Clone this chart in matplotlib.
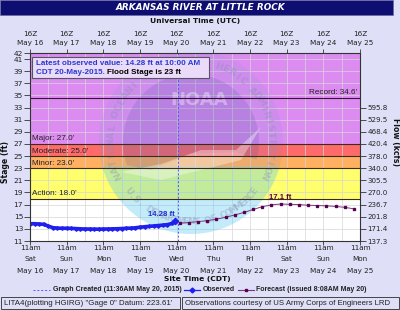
import numpy as np
import matplotlib
matplotlib.use("Agg")
import matplotlib.pyplot as plt
import matplotlib.transforms as mtransforms
from matplotlib.patches import Rectangle, Polygon
from matplotlib.lines import Line2D

# ---------------- data ----------------
days = ["Sat", "Sun", "Mon", "Tue", "Wed", "Thu", "Fri", "Sat", "Sun", "Mon"]
dates = ["May 16", "May 17", "May 18", "May 19", "May 20", "May 21", "May 22", "May 23", "May 24", "May 25"]
utc_dates = dates
stage_ticks = [11, 13, 15, 17, 19, 21, 23, 25, 27, 29, 31, 33, 35, 37, 39, 41, 42]
flow_ticks = [11, 13, 15, 17, 19, 21, 23, 25, 27, 29, 31, 33]
flow_labels = ["137.3", "171.4", "201.8", "236.7", "270.0", "305.5", "340.0", "378.0",
               "420.4", "468.4", "529.5", "595.8"]

# observed (hours after May 16 11am CDT)
obs_hours = [0, 3, 6, 9, 12, 15, 18, 21, 24, 27, 30, 33, 36, 39, 42, 45, 48, 51, 54, 57,
             60, 63, 66, 69, 72, 75, 78, 81, 84, 87, 90, 93, 95]
obs_stage = [13.85, 13.85, 13.8, 13.75, 13.45, 13.2, 13.12, 13.1, 13.1, 13.08, 13.05, 13.0,
             12.98, 12.97, 12.95, 12.95, 12.97, 12.98, 13.0, 13.02, 13.05, 13.1, 13.12, 13.18,
             13.28, 13.35, 13.42, 13.48, 13.55, 13.62, 13.7, 13.9, 14.28]

# forecast (hours after May 16 11am CDT)
fc_hours = [98, 104, 110, 116, 122, 128, 134, 140, 146, 152, 158, 164, 170, 176, 182, 188,
            194, 200, 206, 212]
fc_stage = [13.95, 14.05, 14.2, 14.35, 14.6, 14.9, 15.3, 15.7, 16.2, 16.65, 16.95, 17.1,
            17.05, 17.0, 16.9, 16.85, 16.8, 16.7, 16.55, 16.3]

created_hour = 96.6  # 11:36 AM May 20
flood_cats = [("Action", 18.0, 23.0, "#ffff6e"), ("Minor", 23.0, 25.0, "#ffb060"),
              ("Moderate", 25.0, 27.0, "#ff6a6a"), ("Major", 27.0, 42.0, "#dc8cf0")]
record = 34.6

# ---------------- figure ----------------
W, H = 400, 310
fig = plt.figure(figsize=(4, 3.1), dpi=100)
BG = "#dfdff7"
fig.patch.set_facecolor(BG)
SANS = "Liberation Sans"

def F(x, y):
    return (x / W, 1 - y / H)

pix = mtransforms.Affine2D().scale(1 / W, -1 / H).translate(0, 1) + fig.transFigure

L, R, T, B = 30, 360, 53, 241
ax = fig.add_axes([L / W, 1 - B / H, (R - L) / W, (B - T) / H])
ax.set_facecolor("white")
ax.set_xlim(0, 9)
ax.set_ylim(11, 42)

# bands
for name, lo, hi, col in flood_cats:
    ax.axhspan(lo, hi, color=col, zorder=0.3, lw=0)
for name, lo, hi, col in flood_cats:
    ax.axhline(lo, color="#3a2a20", lw=0.8, zorder=2)
ax.axhline(record, color="#3a1040", lw=0.8, zorder=2)

# grid
for yv in stage_ticks[:-1]:
    ax.axhline(yv, color="#d6d6d6", lw=0.5, zorder=0.6)
for xv in np.arange(0.5, 9, 0.5):
    ax.axvline(xv, color="#d6d6d6", lw=0.5, zorder=0.6)

# ---------------- watermark ----------------
cx, cy = 191, 142
zw = 1.0
th = np.linspace(np.radians(195), np.radians(345), 80)
sea = [(cx + 92 * np.cos(t), cy - 92 * np.sin(t)) for t in th]
ax.add_patch(Polygon(sea, closed=True, transform=pix, facecolor="#5ec8f0",
                     alpha=0.36, lw=0, zorder=zw))
th2 = np.linspace(np.radians(195), np.radians(-15), 80)
up = [(cx + 92 * np.cos(t), cy - 92 * np.sin(t)) for t in th2]
ax.add_patch(Polygon(up, closed=True, transform=pix, facecolor="#7090d0",
                     alpha=0.12, lw=0, zorder=zw))
th3 = np.linspace(np.radians(200), np.radians(-15), 60)
sky_pts = [(cx + 68 * np.cos(t), cy - 68 * np.sin(t)) for t in th3]
sky_pts += [(cx + 45, cy + 10), (cx, cy + 12), (cx - 40, cy + 28)]
ax.add_patch(Polygon(sky_pts, closed=True, transform=pix, facecolor="#2a3a9a",
                     alpha=0.13, lw=0, zorder=zw))
gull = [(cx - 70, cy + 30), (cx - 30, cy + 22), (cx + 10, cy + 8), (cx + 45, cy + 8),
        (cx + 70, cy - 15), (cx + 50, cy + 18), (cx + 10, cy + 28), (cx - 30, cy + 38)]
ax.add_patch(Polygon(gull, closed=True, transform=pix, facecolor="white",
                     alpha=0.35, lw=0, zorder=zw))
ax.text(cx + 8, cy - 42, "NOAA", transform=pix, fontsize=13, fontweight="bold",
        color="white", alpha=0.35, ha="center", va="center", zorder=zw)

BOX = (32, 56.5, 177, 21)  # info box in pixels (x, y, w, h)

def arc_text(s, r, a0, a1, top):
    n = len(s)
    angs = np.linspace(a0, a1, n)
    for ch, a in zip(s, angs):
        ar = np.radians(a)
        x = cx + r * np.cos(ar)
        y = cy - r * np.sin(ar)
        if BOX[0] - 4 < x < BOX[0] + BOX[2] + 4 and BOX[1] - 4 < y < BOX[1] + BOX[3] + 4:
            continue  # hidden below the info box anyway
        rot = a - 90 if top else a + 90
        ax.text(x, y, ch, transform=pix, fontsize=6.5, fontweight="bold", color="#8890b8",
                alpha=0.4, ha="center", va="center", rotation=rot,
                rotation_mode="anchor", zorder=zw)

arc_text("NATIONAL OCEANIC AND ATMOSPHERIC ADMINISTRATION", 80, 205, -25, True)
arc_text("U.S. DEPARTMENT OF COMMERCE", 80, 218, 322, False)

# ---------------- data lines ----------------
ax.axvline(created_hour / 24, color="#5555ff", lw=0.7, ls=(0, (2, 2)), zorder=2.5)
obs_x = np.array(obs_hours) / 24
fc_x = np.array(fc_hours) / 24
ax.plot(obs_x, obs_stage, color="#2020ee", lw=2.6, zorder=3, solid_capstyle="round")
ax.plot(obs_x, obs_stage, ls="none", marker="D", ms=1.8, color="#2020ee", zorder=3)
ax.plot(obs_x[-1], obs_stage[-1], marker="D", ms=3.2, color="#2020ee", zorder=3.1)
ax.plot(fc_x, fc_stage, color="#7a3a80", lw=0.7, zorder=3)
ax.plot(fc_x, fc_stage, ls="none", marker="s", ms=1.8, color="#5a0050", zorder=3.1)

ax.text(obs_x[-1] - 0.02, obs_stage[-1] + 0.45, "14.28 ft", fontsize=5.6, fontweight="bold",
        color="#2030d0", ha="right", va="bottom", zorder=4, family=SANS)
imax = int(np.argmax(fc_stage))
ax.text(fc_x[imax], fc_stage[imax] + 0.55, "17.1 ft", fontsize=5.6, fontweight="bold",
        color="#5a0050", ha="center", va="bottom", zorder=4, family=SANS)

# band labels
for name, lo, hi, col in flood_cats:
    ax.text(0.06, lo + 0.25, f"{name}: {lo:.1f}'", fontsize=5.9, color="#222222",
            ha="left", va="bottom", zorder=4, family=SANS)
ax.text(8.93, record + 0.25, f"Record: {record:.1f}'", fontsize=5.9, color="#222222",
        ha="right", va="bottom", zorder=4, family=SANS)

# info box
ax.add_patch(Rectangle((BOX[0], BOX[1]), BOX[2], BOX[3], transform=pix, facecolor="#eadcf8",
                       edgecolor="#555566", lw=0.8, zorder=5, clip_on=False))
fig.text(*F(36, 63.5), "Latest observed value: 14.28 ft at 10:00 AM", fontsize=5.8,
         fontweight="bold", color="#2a3ad0", va="center", ha="left", family=SANS, zorder=6)
t2 = fig.text(*F(36, 72), "CDT 20-May-2015. ", fontsize=5.8, fontweight="bold",
              color="#2a3ad0", va="center", ha="left", family=SANS, zorder=6)
ax.annotate("Flood Stage is 23 ft", xy=(1, 0.5), xycoords=t2, fontsize=5.8,
            fontweight="bold", color="black", va="center", ha="left",
            family=SANS, zorder=6, annotation_clip=False)

# ---------------- axes / ticks ----------------
for sp in ax.spines.values():
    sp.set_color("#333333")
    sp.set_linewidth(0.8)
    sp.set_zorder(4)
ax.set_xticks(range(10))
ax.tick_params(axis="x", which="both", top=True, bottom=True, direction="out",
               length=3, width=0.6, color="#333333", labelbottom=False, labeltop=False)
ax.set_yticks(stage_ticks)
ax.set_yticklabels([str(v) for v in stage_ticks])
ax.tick_params(axis="y", direction="out", length=4, width=0.6, color="#333333",
               labelsize=5.3, pad=1, labelcolor="#222222")
ax2 = ax.twinx()
ax2.set_ylim(11, 42)
ax2.set_yticks(flow_ticks)
ax2.set_yticklabels(flow_labels)
ax2.tick_params(axis="y", direction="out", length=4, width=0.6, color="#333333",
                labelsize=5.1, pad=1.5, labelcolor="#222222")
for sp in ax2.spines.values():
    sp.set_visible(False)

# bottom/top labels
for i in range(10):
    x = L + i * (R - L) / 9
    fig.text(*F(x, 248), "11am", fontsize=5.2, ha="center", va="center", color="#222222")
    fig.text(*F(x, 259), days[i], fontsize=5.2, ha="center", va="center", color="#222222")
    fig.text(*F(x, 270.5), dates[i], fontsize=5.2, ha="center", va="center", color="#222222")
    fig.text(*F(x, 34), "16Z", fontsize=5.2, ha="center", va="center", color="#222222")
    fig.text(*F(x, 42.5), utc_dates[i], fontsize=5.2, ha="center", va="center", color="#222222")

fig.text(*F(197, 279.5), "Site Time (CDT)", fontsize=5.4, fontweight="bold",
         ha="center", va="center", color="#111111")
fig.text(*F(195, 20.5), "Universal Time (UTC)", fontsize=5.4, fontweight="bold",
         ha="center", va="center", color="#111111")
fig.text(*F(6, 162), "Stage (ft)", fontsize=5.6, fontweight="bold", rotation=90,
         ha="center", va="center", color="#111111")
fig.text(*F(395, 142), "Flow (kcfs)", fontsize=5.6, fontweight="bold", rotation=-90,
         ha="center", va="center", color="#111111")

# title bar
fig.patches.append(Rectangle(F(0, 14.5), 393 / W, 14.5 / H, transform=fig.transFigure,
                             facecolor="#0e0e72", edgecolor="#6a6aa0", lw=0.5, zorder=0))
fig.text(*F(200, 7.5), "ARKANSAS RIVER AT LITTLE ROCK", fontsize=6.4, fontweight="bold",
         style="italic", color="white", ha="center", va="center")

# legend
ly = 289.5
LFS = 5.0
fig.add_artist(Line2D([F(33, ly)[0], F(50, ly)[0]], [F(33, ly)[1]] * 2,
                      color="#5555ff", lw=0.7, ls=(0, (2, 2))))
fig.text(*F(53, ly), "Graph Created (11:36AM May 20, 2015)", fontsize=LFS, fontweight="bold",
         family=SANS, ha="left", va="center", color="#222222")
fig.add_artist(Line2D([F(184, ly)[0], F(200, ly)[0]], [F(184, ly)[1]] * 2,
                      color="#2020ee", lw=0.9))
fig.add_artist(Line2D([F(192, ly)[0]], [F(192, ly)[1]], color="#2020ee",
                      marker="D", ms=2.5, ls="none"))
fig.text(*F(203, ly), "Observed", fontsize=LFS, fontweight="bold",
         family=SANS, ha="left", va="center", color="#222222")
fig.add_artist(Line2D([F(238, ly)[0], F(254, ly)[0]], [F(238, ly)[1]] * 2,
                      color="#7a3a80", lw=0.8))
fig.add_artist(Line2D([F(246, ly)[0]], [F(246, ly)[1]], color="#5a0050",
                      marker="s", ms=2.0, ls="none"))
fig.text(*F(256, ly), "Forecast (issued 8:08AM May 20)", fontsize=LFS, fontweight="bold",
         family=SANS, ha="left", va="center", color="#222222")

# bottom info boxes
fig.patches.append(Rectangle(F(1, 309), 179 / W, 12 / H, transform=fig.transFigure,
                             facecolor=BG, edgecolor="#444444", lw=0.7))
fig.patches.append(Rectangle(F(182, 309), 217 / W, 12 / H, transform=fig.transFigure,
                             facecolor=BG, edgecolor="#444444", lw=0.7))
fig.text(*F(4, 303.3), "LITA4(plotting HGIRG) \"Gage 0\" Datum: 223.61'", fontsize=5.7,
         family=SANS, ha="left", va="center", color="#222222")
fig.text(*F(185, 303.3), "Observations courtesy of US Army Corps of Engineers LRD", fontsize=5.6,
         family=SANS, ha="left", va="center", color="#222222")

fig.savefig("out.png", dpi=100, facecolor=fig.get_facecolor())
